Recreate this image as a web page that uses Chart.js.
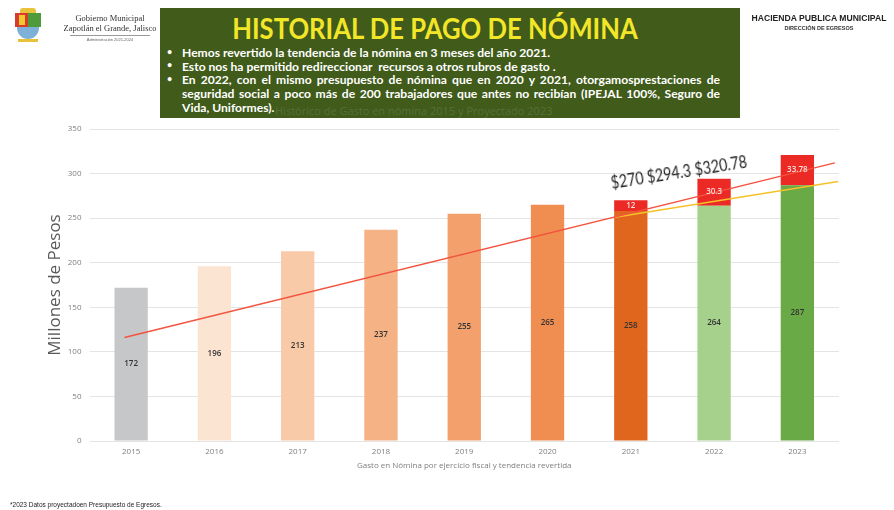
<!DOCTYPE html>
<html>
<head>
<meta charset="utf-8">
<script src="https://cdn.jsdelivr.net/npm/chart.js@4.4.1/dist/chart.umd.min.js"></script>
<style>
    body { margin: 0; background: #fff; font-family: "Open Sans", sans-serif; }
    #wrap { position: relative; width: 894px; height: 510px; overflow: hidden; }
    #chart { position: absolute; left: 0; top: 0; }
    .abs { position: absolute; white-space: nowrap; }
    #box { left: 160px; top: 8px; width: 580px; height: 110px; background: #405b1a; }
    #title { left: 135px; top: 11px; width: 600px; text-align: center; font: bold 28px Lato, sans-serif; color: #f3e629; transform: scaleX(0.915); }
    .line { left: 182px; font: bold 12.1px Lato, sans-serif; color: #fff; }
    .just { width: 538px; text-align: justify; text-align-last: justify; }
    .dot { left: 167px; font: bold 9px Lato, sans-serif; color: #fff; }
    #faint { left: 275px; top: 103px; font: 11px "Open Sans", sans-serif; color: #56703a; }
    #gob { left: 60px; top: 13px; width: 100px; text-align: center; font: 8.5px "Liberation Serif", serif; color: #333; line-height: 10px; }
    #adm { left: 70px; top: 35px; width: 80px; text-align: center; font: 4px "Liberation Sans", sans-serif; color: #666; border-top: 1px solid #999; padding-top: 1px; }
    #hac { left: 744px; top: 13px; width: 150px; text-align: center; font: bold 8.6px "Liberation Sans Narrow", "Liberation Sans", sans-serif; color: #222; }
    #egr { left: 744px; top: 25px; width: 150px; text-align: center; font: bold 5.5px "Liberation Sans Narrow", "Liberation Sans", sans-serif; color: #333; }
    #trend { left: 611px; top: 173px; font: 16.5px Lato, sans-serif; color: #1e1e1e; transform: rotate(-9deg) scaleX(0.86); transform-origin: left center; }
    #foot { left: 10px; top: 501px; font: 6.5px "Liberation Sans", sans-serif; color: #222; }
    #shield { left: 12px; top: 8px; width: 32px; height: 36px; }
</style>
</head>
<body>
<div id="wrap">
    <canvas id="chart" width="894" height="510"></canvas>

    <div id="shield" class="abs">
        <div class="abs" style="left:8px;top:0;width:16px;height:5px;background:#e8c23a;border-radius:3px 3px 0 0;"></div>
        <div class="abs" style="left:3px;top:5px;width:13px;height:14px;background:#d93b2b;"></div>
        <div class="abs" style="left:16px;top:5px;width:13px;height:14px;background:#4f9a3a;"></div>
        <div class="abs" style="left:7px;top:7px;width:6px;height:10px;background:#f0c830;"></div>
        <div class="abs" style="left:5px;top:19px;width:22px;height:12px;background:#7fb0d8;border-radius:0 0 11px 11px;"></div>
        <div class="abs" style="left:6px;top:31px;width:20px;height:3px;background:#e8c23a;"></div>
    </div>
    <div id="gob" class="abs">Gobierno Municipal<br>Zapotlán el Grande, Jalisco</div>
    <div id="adm" class="abs">Administración 2021-2024</div>

    <div id="box" class="abs"></div>
    <div id="title" class="abs">HISTORIAL DE PAGO DE NÓMINA</div>
    <div id="faint" class="abs">Histórico de Gasto en nómina 2015 y Proyectado 2023</div>
    <div class="abs dot" style="top:46px">•</div>
    <div class="abs dot" style="top:59px">•</div>
    <div class="abs dot" style="top:73px">•</div>
    <div class="abs line" style="top:45px">Hemos revertido la tendencia de la nómina en 3 meses del año 2021.</div>
    <div class="abs line" style="top:59px">Esto nos ha permitido redireccionar&nbsp; recursos a otros rubros de gasto .</div>
    <div class="abs line just" style="top:72px">En 2022, con el mismo presupuesto de nómina que en 2020 y 2021, otorgamosprestaciones de</div>
    <div class="abs line just" style="top:86px">seguridad social a poco más de 200 trabajadores que antes no recibían (IPEJAL 100%, Seguro de</div>
    <div class="abs line" style="top:100px">Vida, Uniformes).</div>

    <div id="hac" class="abs">HACIENDA PUBLICA MUNICIPAL</div>
    <div id="egr" class="abs">DIRECCIÓN DE EGRESOS</div>

    <div id="trend" class="abs">$270 $294.3 $320.78</div>
    <div id="foot" class="abs">*2023 Datos proyectadoen Presupuesto de Egresos.</div>
</div>
<script>
const years = ["2015", "2016", "2017", "2018", "2019", "2020", "2021", "2022", "2023"];
const nomina = [172, 196, 213, 237, 255, 265, 258, 264, 287];
const extra = [null, null, null, null, null, null, 12, 30.3, 33.78];
const barColors = ["#c6c7c9", "#fce4d3", "#f9caa8", "#f5b285", "#f3a06c", "#f08d50", "#e0661e", "#a6d18c", "#6aaa46"];
// tendencias (x = indice de año)
const redTrend = [{ x: -0.08, y: 116 }, { x: 8.45, y: 312 }];
const yellowTrend = [{ x: 5.81, y: 251 }, { x: 8.49, y: 291 }];
const yTicks = [0, 50, 100, 150, 200, 250, 300, 350];

const ctx = document.getElementById("chart");

const valueLabels = {
    id: "valueLabels",
    afterDatasetsDraw(chart) {
        const c = chart.ctx;
        chart.data.datasets.forEach((ds, i) => {
            if (!ds.labelColor) return;
            const meta = chart.getDatasetMeta(i);
            meta.data.forEach((bar, j) => {
                const v = ds.data[j];
                if (v == null) return;
                c.save();
                c.font = '600 8px "Open Sans"';
                c.fillStyle = ds.labelColor;
                c.textAlign = "center";
                c.textBaseline = "middle";
                c.fillText(String(v), bar.x, (bar.y + bar.base) / 2);
                c.restore();
            });
        });
    },
};

new Chart(ctx, {
    data: {
        labels: years,
        datasets: [
            {
                type: "line",
                data: redTrend,
                xAxisID: "x2",
                stack: "r",
                borderColor: "#f3533f",
                borderWidth: 1.5,
                pointRadius: 0,
                order: 0,
            },
            {
                type: "line",
                data: yellowTrend,
                xAxisID: "x2",
                stack: "a",
                borderColor: "#f5c229",
                borderWidth: 1.5,
                pointRadius: 0,
                order: 0,
            },
            {
                type: "bar",
                data: nomina,
                backgroundColor: barColors,
                labelColor: "#333333",
                order: 1,
            },
            {
                type: "bar",
                data: extra,
                backgroundColor: "#ec2a25",
                labelColor: "#fde0dc",
                order: 1,
            },
        ],
    },
    options: {
        responsive: false,
        animation: false,
        devicePixelRatio: 1,
        layout: { padding: { left: 0, top: 129, right: 55, bottom: 0 } },
        datasets: { bar: { barPercentage: 0.4, categoryPercentage: 1, grouped: false } },
        plugins: { legend: { display: false }, tooltip: { enabled: false } },
        scales: {
            x: {
                stacked: true,
                grid: { display: false, drawTicks: false },
                border: { display: false },
                ticks: { color: "#7f7f7f", font: { size: 8, family: "Open Sans" }, padding: 6 },
                title: {
                    display: true,
                    text: "Gasto en Nómina por ejercicio fiscal y tendencia revertida",
                    color: "#7f7f7f",
                    font: { size: 8, family: "Open Sans" },
                    padding: { top: 0, bottom: 39 },
                },
                afterFit: (axis) => { axis.height = 69; },
            },
            x2: { type: "linear", min: -0.5, max: 8.5, display: false },
            y: {
                stacked: true,
                min: 0,
                max: 350,
                afterBuildTicks: (axis) => { axis.ticks = yTicks.map((v) => ({ value: v })); },
                grid: { color: "#e4e4e4", drawTicks: false },
                border: { display: false },
                ticks: { color: "#7f7f7f", font: { size: 8, family: "Open Sans" }, padding: 8 },
                title: {
                    display: true,
                    text: "Millones de Pesos",
                    color: "#595959",
                    font: { size: 17, family: "Open Sans" },
                    padding: { top: 45, bottom: 0 },
                },
                afterFit: (axis) => { axis.width = 89.5; },
            },
        },
    },
    plugins: [valueLabels],
});
</script>
</body>
</html>
